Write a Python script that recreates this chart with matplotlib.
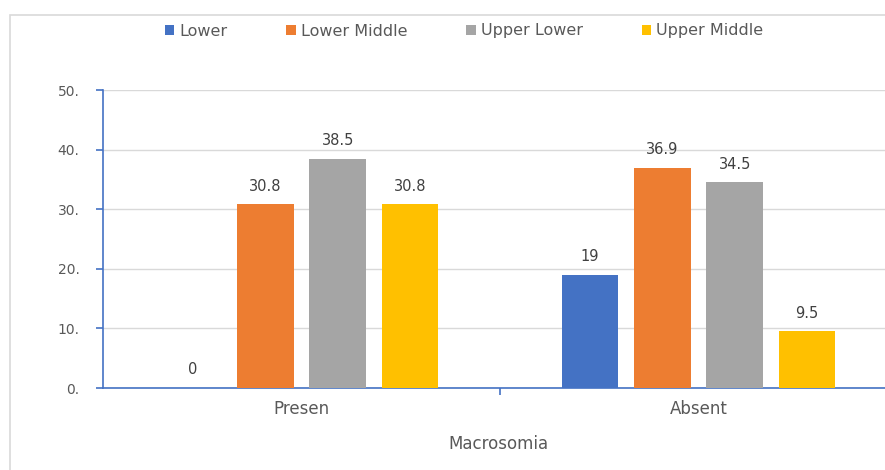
import numpy as np
import matplotlib.pyplot as plt
from matplotlib.patches import Rectangle

groups = ['Presen', 'Absent']
series = ['Lower', 'Lower Middle', 'Upper Lower', 'Upper Middle']
lower = [0, 19]
lower_middle = [30.8, 36.9]
upper_lower = [38.5, 34.5]
upper_middle = [30.8, 9.5]
colors = ['#4472C4', '#ED7D31', '#A5A5A5', '#FFC000']

W, H = 885, 470
fig = plt.figure(figsize=(W / 100, H / 100), dpi=100)
plt.rcParams['font.family'] = ['DejaVu Sans']

# outer chart frame, cut off on the right and bottom
fig.patches.append(Rectangle((10 / W, -0.1), 1.2, 1 - 15 / H + 0.1, transform=fig.transFigure,
                             fill=False, edgecolor='#d9d9d9', lw=1.2))

ax = fig.add_axes([103 / W, 1 - 388 / H, (W - 103) / W, (388 - 90) / H])

x = np.arange(len(groups))
width = 0.142
step = 0.182
data = [lower, lower_middle, upper_lower, upper_middle]
for i, (name, vals) in enumerate(zip(series, data)):
    pos = x + (i - 1.5) * step
    bars = ax.bar(pos, vals, width, color=colors[i], label=name, zorder=3)
    for b, v in zip(bars, vals):
        ax.text(b.get_x() + b.get_width() / 2, v + 1.8, '{:g}'.format(v),
                ha='center', va='bottom', fontsize=10.5, color='#404040')

ax.set_ylim(0, 50)
ax.set_xlim(-0.5, -0.5 + (W - 103) / 397)
ax.set_yticks(np.arange(0, 51, 10))
ax.set_yticklabels(['{}.'.format(v) for v in range(0, 51, 10)], fontsize=10, color='#595959')
ax.yaxis.grid(True, color='#d9d9d9', lw=1, zorder=0)

ax.set_xticks(x)
ax.set_xticklabels(groups, fontsize=12, color='#595959')
ax.tick_params(axis='x', length=0, pad=9)
ax.set_xticks([0.5], minor=True)
ax.tick_params(axis='x', which='minor', length=5, color='#4472C4', width=1.2)
ax.tick_params(axis='y', length=5, color='#4472C4', width=1.2, pad=12)

for s in ['top', 'right']:
    ax.spines[s].set_visible(False)
for s in ['left', 'bottom']:
    ax.spines[s].set_color('#4472C4')
    ax.spines[s].set_linewidth(1.2)

ax.set_xlabel('Macrosomia', fontsize=12, color='#595959')
ax.xaxis.set_label_coords(395 / (W - 103), -47 / 298)

fig.legend(loc='center', bbox_to_anchor=(464 / W, 1 - 31 / H), ncol=4, frameon=False,
           fontsize=11.5, labelcolor='#595959', handlelength=0.6, handleheight=0.6,
           handletextpad=0.3, columnspacing=3.7)

fig.savefig('out.png', dpi=100, facecolor='white')
